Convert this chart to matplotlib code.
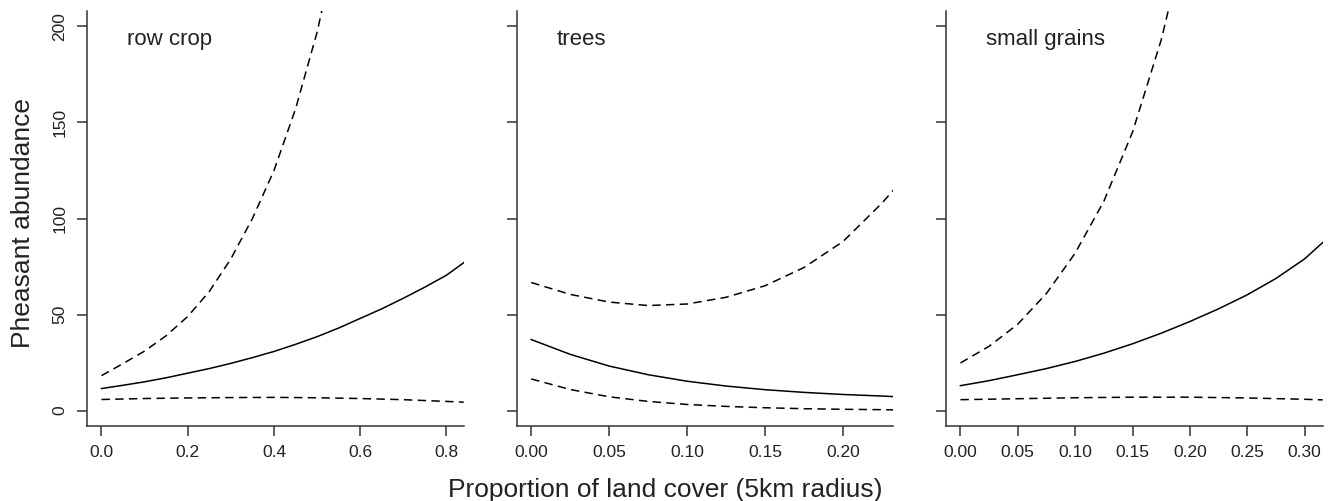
import numpy as np
import matplotlib
matplotlib.use('Agg')
import matplotlib.pyplot as plt

plt.rcParams['font.family'] = ['Liberation Sans', 'DejaVu Sans']

# row crop panel
rc_x = [0.0, 0.05, 0.1, 0.15, 0.2, 0.25, 0.3, 0.35, 0.4, 0.45, 0.5, 0.55, 0.6, 0.65, 0.7, 0.75, 0.8, 0.84]
rc_fit = [11.5, 13.2, 15.0, 17.1, 19.5, 21.9, 24.6, 27.6, 30.8, 34.5, 38.5, 43.0, 48.0, 53.0, 58.5, 64.3, 70.5, 77.0]
rc_up_x = [0.0, 0.05, 0.1, 0.15, 0.2, 0.25, 0.3, 0.35, 0.4, 0.45, 0.5, 0.55]
rc_up = [18.2, 24.5, 31.0, 39.0, 49.0, 62.0, 79.0, 100.0, 125.0, 157.0, 197.0, 248.0]
rc_lo_x = [0.0, 0.1, 0.2, 0.3, 0.4, 0.5, 0.6, 0.7, 0.8, 0.84]
rc_lo = [5.8, 6.3, 6.6, 6.8, 6.9, 6.7, 6.3, 5.7, 4.8, 4.4]

# trees panel
tr_x = [0.0, 0.025, 0.05, 0.075, 0.1, 0.125, 0.15, 0.175, 0.2, 0.225, 0.2324]
tr_fit = [37.0, 29.3, 23.2, 18.7, 15.3, 12.8, 10.9, 9.5, 8.4, 7.6, 7.3]
tr_up = [66.7, 60.5, 56.5, 54.7, 55.5, 59.0, 65.0, 74.5, 88.0, 108.0, 114.8]
tr_lo = [16.5, 11.0, 7.2, 4.8, 3.2, 2.2, 1.5, 1.0, 0.7, 0.5, 0.4]

# small grains panel
sg_x = [0.0, 0.025, 0.05, 0.075, 0.1, 0.125, 0.15, 0.175, 0.2, 0.225, 0.25, 0.275, 0.3, 0.3157]
sg_fit = [13.0, 15.6, 18.7, 21.9, 25.6, 29.9, 34.8, 40.3, 46.4, 53.0, 60.3, 68.8, 79.0, 87.5]
sg_up_x = [0.0, 0.025, 0.05, 0.075, 0.1, 0.125, 0.15, 0.175, 0.2]
sg_up = [24.8, 33.5, 45.0, 61.0, 82.0, 109.0, 145.0, 193.0, 255.0]
sg_lo_x = [0.0, 0.05, 0.1, 0.15, 0.2, 0.25, 0.3, 0.3157]
sg_lo = [5.7, 6.2, 6.7, 7.0, 7.0, 6.6, 5.9, 5.6]

panel_names = ['row crop', 'trees', 'small grains']
y_ticks = [0, 50, 100, 150, 200]

panels = [
    (rc_x, rc_fit, rc_up_x, rc_up, rc_lo_x, rc_lo, [0.0, 0.2, 0.4, 0.6, 0.8], '%.1f'),
    (tr_x, tr_fit, tr_x, tr_up, tr_x, tr_lo, [0.0, 0.05, 0.1, 0.15, 0.2], '%.2f'),
    (sg_x, sg_fit, sg_up_x, sg_up, sg_lo_x, sg_lo, [0.0, 0.05, 0.1, 0.15, 0.2, 0.25, 0.3], '%.2f'),
]

fig = plt.figure(figsize=(13.28, 5.01), dpi=100)
lefts = [0.0655, 0.3891, 0.7123]
axis_col = '#333333'

for i, (fx, fy, ux, uy, lx, ly, xt, fmt) in enumerate(panels):
    ax = fig.add_axes([lefts[i], 0.1497, 0.2837, 0.8283])
    ax.plot(fx, fy, color='black', lw=1.1)
    ax.plot(ux, uy, color='black', lw=1.1, dashes=(5.5, 3.5))
    ax.plot(lx, ly, color='black', lw=1.1, dashes=(5.5, 3.5))

    xmax = fx[-1]
    ax.set_xlim(-0.04 * xmax, xmax)
    ax.set_ylim(-8, 208)
    ax.set_xticks(xt)
    ax.set_xticklabels([fmt % v for v in xt])
    ax.set_yticks(y_ticks)
    if i == 0:
        ax.set_yticklabels([str(v) for v in y_ticks], rotation=90, va='center')
    else:
        ax.set_yticklabels([])

    for s in ['top', 'right']:
        ax.spines[s].set_visible(False)
    for s in ['left', 'bottom']:
        ax.spines[s].set_color(axis_col)
        ax.spines[s].set_linewidth(1.1)
    ax.tick_params(colors=axis_col, labelcolor='#222222', labelsize=12.5,
                   length=7, width=1.1, pad=7)

    ax.text(0.106, 0.9325, panel_names[i], transform=ax.transAxes,
            fontsize=16, color='#222222', ha='left', va='center')

fig.text(0.0175, 0.555, 'Pheasant abundance', rotation=90, fontsize=19,
         color='#222222', ha='center', va='center')
fig.text(0.5008, 0.022, 'Proportion of land cover (5km radius)', fontsize=19,
         color='#222222', ha='center', va='center')

plt.savefig('out.png', dpi=100)
